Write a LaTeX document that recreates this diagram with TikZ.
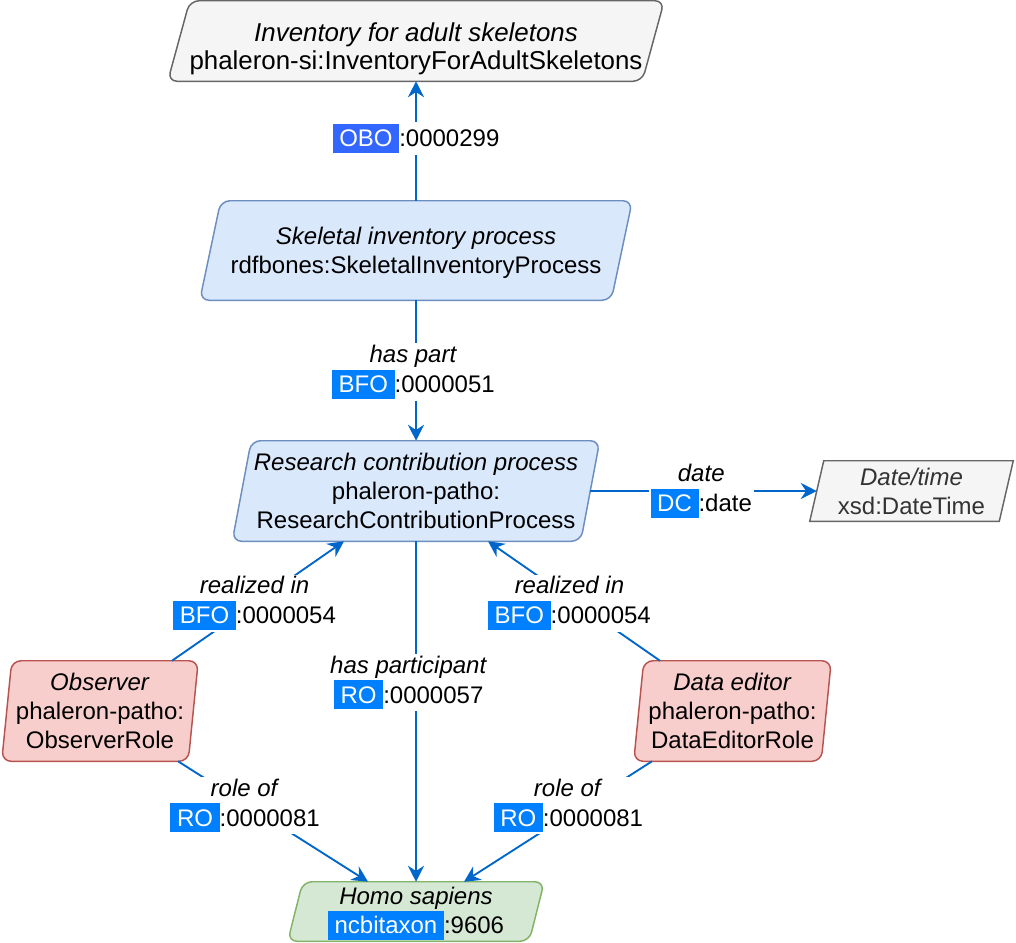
\documentclass[tikz,border=0pt]{standalone}
\usepackage{fontspec}
\setmainfont{Liberation Sans}
\usetikzlibrary{arrows.meta,calc}
\definecolor{edgec}{HTML}{0066CC}
\definecolor{blueF}{HTML}{DAE8FC}
\definecolor{blueS}{HTML}{6C8EBF}
\definecolor{grayF}{HTML}{F5F5F5}
\definecolor{grayS}{HTML}{666666}
\definecolor{grayT}{HTML}{333333}
\definecolor{redF}{HTML}{F8CECC}
\definecolor{redS}{HTML}{B85450}
\definecolor{greenF}{HTML}{D5E8D4}
\definecolor{greenS}{HTML}{82B366}
\definecolor{oboc}{HTML}{3366FF}
\definecolor{tagc}{HTML}{007FFF}
\pgfdeclarelayer{bg}
\pgfsetlayers{bg,main}
\newcommand\nfont{\fontsize{18pt}{21.8pt}\selectfont}
\newcommand\lfont{\fontsize{18pt}{22.5pt}\selectfont}
\newcommand\tfont{\fontsize{19.4pt}{20.5pt}\selectfont}
\newcommand\tagbox[2]{{\setlength\fboxsep{0pt}\colorbox{#1}{\rule[-0.26em]{0pt}{1.21em}\textcolor{white}{~#2~}}}}
\newcommand\pgram[3]{%
  \begin{pgfonlayer}{bg}
    \draw[#3] ($(#1.north west)+(#2,0)$) -- (#1.north east) -- ($(#1.south east)-(#2,0)$) -- (#1.south west) -- cycle;
  \end{pgfonlayer}}
\tikzset{
  box/.style={inner sep=0pt, align=center, font=\nfont},
  bluebox/.style={draw=blueS, fill=blueF, line width=1.1pt, rounded corners=7pt},
  graybox/.style={draw=grayS, fill=grayF, line width=1.1pt, rounded corners=7pt},
  grayboxsharp/.style={draw=grayS, fill=grayF, line width=1.1pt},
  redbox/.style={draw=redS, fill=redF, line width=1.1pt, rounded corners=7pt},
  greenbox/.style={draw=greenS, fill=greenF, line width=1.1pt, rounded corners=7pt},
  lbl/.style={fill=white, inner sep=1.5pt, align=center, font=\lfont},
  conn/.style={draw=edgec, line width=1.4pt, -{Stealth[length=12pt,width=12pt,inset=4pt]}},
}
\begin{document}
\begin{tikzpicture}[x=0.75pt,y=-0.75pt]
\useasboundingbox (0,0) rectangle (1016,942);

\node[box, font=\tfont, minimum width=372pt, minimum height=60pt] (top) at (416,41)
  {\rule{0pt}{26pt}\textit{Inventory for adult skeletons}\\phaleron-si:InventoryForAdultSkeletons};
\pgram{top}{22}{graybox}

\node[box, minimum width=324pt, minimum height=74.25pt] (sk) at (416,250.5)
  {\rule{0pt}{15.8pt}\textit{Skeletal inventory process}\\rdfbones:SkeletalInventoryProcess};
\pgram{sk}{21}{bluebox}

\node[box, minimum width=275.25pt, minimum height=75pt] (rc) at (416,491)
  {\textit{Research contribution process}\\phaleron-patho:\\ResearchContributionProcess};
\pgram{rc}{19}{bluebox}

\node[box, text=grayT, minimum width=152.25pt, minimum height=45pt] (dt) at (911.5,491)
  {\textit{Date/time}\\xsd:DateTime};
\pgram{dt}{14}{grayboxsharp}

\node[box, minimum width=147pt, minimum height=75pt] (obs) at (100,711)
  {\textit{Observer}\\phaleron-patho:\\ObserverRole};
\pgram{obs}{10}{redbox}

\node[box, minimum width=147.75pt, minimum height=75pt] (de) at (732.5,711)
  {\textit{Data editor}\\phaleron-patho:\\DataEditorRole};
\pgram{de}{10}{redbox}

\node[box, minimum width=192pt, minimum height=44.25pt] (homo) at (416,911.5)
  {\rule{0pt}{16.6pt}\textit{Homo sapiens}\\\tagbox{tagc}{ncbitaxon}:9606};
\pgram{homo}{15}{greenbox}

% connectors
\draw[conn] (sk.north) -- node[lbl, pos=0.52] {\tagbox{oboc}{OBO}:0000299} (top.south);
\draw[conn] (sk.south) -- node[lbl, pos=0.51, xshift=-2pt] {\textit{has part}\\\tagbox{tagc}{BFO}:0000051} (rc.north);
\draw[conn] ($(rc.east)-(9.5,0)$) -- node[lbl, pos=0.49] {\textit{date}\\\tagbox{tagc}{DC}:date} ($(dt.west)+(7,0)$);
\draw[conn] ($(obs.north)+(72,0)$) -- node[lbl, pos=0.48] {\textit{realized in}\\\tagbox{tagc}{BFO}:0000054} ($(rc.south)-(72,0)$);
\draw[conn] ($(de.north)-(72.5,0)$) -- node[lbl, pos=0.48, xshift=-6pt] {\textit{realized in}\\\tagbox{tagc}{BFO}:0000054} ($(rc.south)+(72,0)$);
\draw[conn] (rc.south) -- node[lbl, pos=0.415, xshift=-5.5pt] {\textit{has participant}\\\tagbox{tagc}{RO}:0000057} (homo.north);
\draw[conn] ($(obs.south)+(78,0)$) -- node[lbl, pos=0.367, xshift=-2pt] {\textit{role of}\\\tagbox{tagc}{RO}:0000081} ($(homo.north)-(48,0)$);
\draw[conn] ($(de.south)-(80.5,0)$) -- node[lbl, pos=0.367, xshift=-11pt] {\textit{role of}\\\tagbox{tagc}{RO}:0000081} ($(homo.north)+(48,0)$);
\end{tikzpicture}
\end{document}
